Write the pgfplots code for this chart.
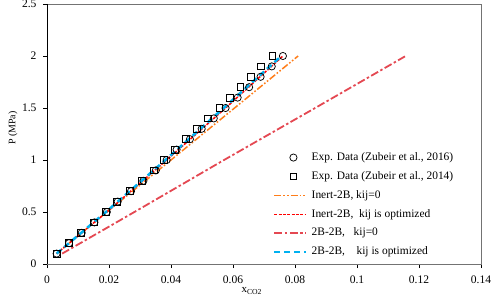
\documentclass[border=0pt]{standalone}
\usepackage{fontspec}
\setmainfont{Liberation Serif}
\usepackage{pgfplots}
\pgfplotsset{compat=1.18}
\definecolor{corange}{RGB}{255,125,25}
\definecolor{cred}{RGB}{255,0,0}
\definecolor{clred}{RGB}{228,72,82}
\definecolor{ccyan}{RGB}{0,176,240}
\pgfplotsset{
  linelegend/.style={legend image code/.code={\draw[##1] (0bp,0bp) -- (32bp,0bp);}},
  marklegend/.style={legend image code/.code={\draw[mark repeat=2,mark phase=2,##1] plot coordinates {(0bp,0bp)(19bp,0bp)(38bp,0bp)};}},
}
\begin{document}
\begin{tikzpicture}
\begin{axis}[
  scale only axis, width=434bp, height=260bp,
  xmin=0, xmax=0.14, ymin=0, ymax=2.5,
  xtick={0,0.02,0.04,0.06,0.08,0.1,0.12,0.14},
  xticklabels={0,0.02,0.04,0.06,0.08,0.1,0.12,0.14},
  ytick={0,0.5,1,1.5,2,2.5},
  yticklabels={0,0.5,1,1.5,2,2.5},
  /pgf/number format/assume math mode=true,
  xtick pos=bottom, ytick pos=left,
  tick align=outside, major tick length=4bp,
  tick style={black, line width=0.8bp},
  axis line style={draw=black!55, line width=0.8bp},
  ticklabel style={font=\fontsize{11.6}{13}\selectfont},
  xticklabel shift=4bp,
  yticklabel shift=3bp,
  xlabel={x\textsubscript{CO2}},
  ylabel={P (MPa)},
  xlabel style={font=\fontsize{11}{12}\selectfont, at={(ticklabel cs:0.472)}, anchor=north, inner sep=1bp},
  ylabel style={font=\fontsize{10}{12}\selectfont, at={(ticklabel cs:0.523)}, anchor=south, inner sep=1bp},
  legend style={at={(rel axis cs:0.5207,0.434)}, anchor=north west, draw=none, fill=none,
    inner sep=0pt, row sep=6.5bp, column sep=3bp, font=\fontsize{11.5}{13}\selectfont,
    nodes={inner sep=1bp, text height=8bp, text depth=2.4bp}},
  legend cell align=left,
]
% Exp. Data 2016 (circles)
\addplot[only marks, mark=o, mark size=3.6bp, black, line width=0.75bp, marklegend]
 coordinates {
 (0.0031,0.1)(0.0071,0.2)(0.0112,0.3)(0.0153,0.4)(0.0193,0.5)(0.0228,0.6)(0.0271,0.7)
 (0.0311,0.8)(0.0351,0.9)(0.0386,1.0)(0.0418,1.1)(0.0461,1.2)(0.0499,1.3)(0.0538,1.4)
 (0.0576,1.5)(0.0615,1.6)(0.0652,1.7)(0.0689,1.8)(0.0725,1.9)(0.0761,2.0)};
\addlegendentry{Exp. Data (Zubeir et al., 2016)}
% Exp. Data 2014 (squares)
\addplot[only marks, mark=square, mark size=3.4bp, black, line width=0.75bp, marklegend]
 coordinates {
 (0.0031,0.1)(0.0070,0.2)(0.0110,0.3)(0.0151,0.4)(0.0190,0.5)(0.0225,0.6)(0.0268,0.7)
 (0.0306,0.8)(0.0345,0.9)(0.0377,1.0)(0.0413,1.1)(0.0448,1.2)(0.0483,1.3)(0.0520,1.4)
 (0.0556,1.5)(0.0590,1.6)(0.0624,1.7)(0.0658,1.8)(0.0691,1.9)(0.0727,2.0)};
\addlegendentry{Exp. Data (Zubeir et al., 2014)}
% Inert-2B, kij=0
\addplot[corange, line width=1.5bp, dash pattern=on 7bp off 2bp on 1.6bp off 2bp on 1.6bp off 2bp, linelegend]
 coordinates {(0.0031,0.1)(0.0193,0.5)(0.0400,1.0)(0.0605,1.5)(0.0810,2.0)};
\addlegendentry{Inert-2B, kij=0}
% Inert-2B, kij optimized
\addplot[cred, line width=1.5bp, dash pattern=on 3bp off 1.3bp, linelegend]
 coordinates {(0.0031,0.1)(0.0193,0.5)(0.0386,1.0)(0.0576,1.5)(0.0761,2.0)};
\addlegendentry{Inert-2B,\ \ kij is optimized}
% 2B-2B, kij=0
\addplot[clred, line width=1.8bp, dash pattern=on 8bp off 2.5bp on 2.5bp off 2.5bp, linelegend]
 coordinates {(0.0049,0.1)(0.0311,0.55)(0.0571,1.0)(0.0865,1.5)(0.1157,2.0)};
\addlegendentry{2B-2B,\ \ \ kij=0}
% 2B-2B, kij optimized
\addplot[ccyan, line width=2.5bp, dash pattern=on 6bp off 4bp, linelegend]
 coordinates {(0.0031,0.1)(0.0190,0.5)(0.0382,1.0)(0.0570,1.5)(0.0756,2.0)};
\addlegendentry{2B-2B,\ \ \ \ kij is optimized}
\draw[black, line width=1bp] (rel axis cs:0,1) -- (rel axis cs:0,0) -- (rel axis cs:1,0);
\coordinate (bl) at (rel axis cs:0,0);
\end{axis}
\pgfresetboundingbox
\path (bl) ++(-47bp,-37bp) rectangle ++(491bp,301bp);
\end{tikzpicture}
\end{document}
